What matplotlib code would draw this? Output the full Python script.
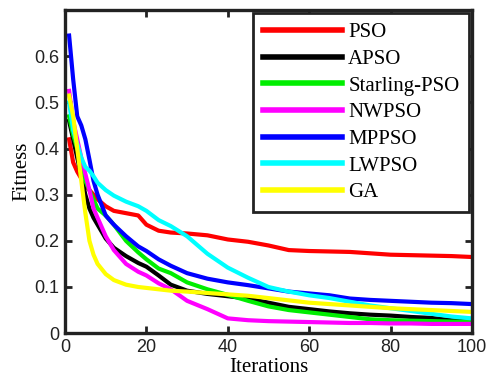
import matplotlib
matplotlib.use("Agg")
import matplotlib.pyplot as plt

iters = [1, 2, 3, 4, 5, 6, 7, 8, 10, 12, 15, 18, 20, 23, 26, 30, 35, 40, 45,
         50, 55, 60, 65, 70, 75, 80, 85, 90, 95, 100]

pso = [0.42, 0.37, 0.35, 0.335, 0.32, 0.31, 0.30, 0.29, 0.275, 0.265, 0.26, 0.255, 0.235,
       0.222, 0.218, 0.216, 0.212, 0.203, 0.198, 0.19, 0.18, 0.178, 0.177, 0.176,
       0.173, 0.17, 0.169, 0.168, 0.167, 0.165]
apso = [0.46, 0.42, 0.38, 0.34, 0.30, 0.27, 0.25, 0.235, 0.205, 0.185, 0.167, 0.152, 0.144,
        0.125, 0.105, 0.092, 0.085, 0.08, 0.075, 0.066, 0.057, 0.052, 0.047, 0.043,
        0.04, 0.038, 0.035, 0.033, 0.028, 0.024]
starling = [0.47, 0.43, 0.40, 0.37, 0.33, 0.31, 0.29, 0.27, 0.255, 0.235, 0.20, 0.175, 0.16,
            0.14, 0.13, 0.11, 0.095, 0.083, 0.07, 0.058, 0.05, 0.045, 0.04, 0.035,
            0.03, 0.028, 0.027, 0.026, 0.025, 0.025]
nwpso = [0.525, 0.46, 0.42, 0.38, 0.345, 0.31, 0.27, 0.25, 0.21, 0.18, 0.15, 0.133, 0.125,
         0.108, 0.095, 0.07, 0.052, 0.032, 0.028, 0.026, 0.025, 0.024, 0.023, 0.022,
         0.022, 0.021, 0.021, 0.02, 0.02, 0.02]
mppso = [0.645, 0.55, 0.47, 0.45, 0.42, 0.376, 0.33, 0.30, 0.255, 0.235, 0.21, 0.188, 0.178,
         0.16, 0.146, 0.13, 0.118, 0.11, 0.104, 0.097, 0.09, 0.086, 0.082, 0.075,
         0.072, 0.07, 0.068, 0.066, 0.065, 0.063]
lwpso = [0.50, 0.44, 0.41, 0.38, 0.36, 0.352, 0.34, 0.326, 0.31, 0.298, 0.285, 0.275, 0.265,
         0.245, 0.232, 0.21, 0.172, 0.142, 0.12, 0.1, 0.09, 0.082, 0.076, 0.068,
         0.06, 0.054, 0.048, 0.042, 0.036, 0.032]
ga = [0.515, 0.47, 0.40, 0.33, 0.26, 0.20, 0.17, 0.15, 0.128, 0.115, 0.105, 0.10, 0.098,
      0.095, 0.092, 0.09, 0.087, 0.084, 0.081, 0.076, 0.071, 0.066, 0.063, 0.06,
      0.057, 0.054, 0.052, 0.05, 0.048, 0.046]

series = [("PSO", pso, "#ff0000"), ("APSO", apso, "#000000"),
          ("Starling-PSO", starling, "#00ee00"), ("NWPSO", nwpso, "#ff00ff"),
          ("MPPSO", mppso, "#0000ff"), ("LWPSO", lwpso, "#00ffff"),
          ("GA", ga, "#ffff00")]

fig = plt.figure(figsize=(4.89, 3.91), dpi=100)
ax = fig.add_axes([0.133, 0.148, 0.832, 0.826])

for name, vals, col in series:
    ax.plot(iters, vals, color=col, lw=3, label=name)

ax.set_xlim(0, 100)
ax.set_ylim(0, 0.7)
ax.set_xticks([0, 20, 40, 60, 80, 100])
ax.set_yticks([0, 0.1, 0.2, 0.3, 0.4, 0.5, 0.6])
ax.set_yticklabels(["0", "0.1", "0.2", "0.3", "0.4", "0.5", "0.6"])
ax.tick_params(direction="in", length=5, width=2, top=True, right=True,
               labelsize=13, pad=4, colors="#222222", labelcolor="#222222")
for lab in ax.get_xticklabels() + ax.get_yticklabels():
    lab.set_family("Liberation Sans")
for sp in ax.spines.values():
    sp.set_linewidth(2.4)
    sp.set_color("#222222")

ax.set_xlabel("Iterations", family="Liberation Serif", fontsize=15, labelpad=2)
ax.set_ylabel("Fitness", family="Liberation Serif", fontsize=15, labelpad=2)

leg = ax.legend(loc="upper right", prop={"family": "Liberation Serif", "size": 15},
                handlelength=3.8, handletextpad=0.3, labelspacing=0.34,
                borderaxespad=0.15, borderpad=0.45, fancybox=False, framealpha=1)
leg.get_frame().set_edgecolor("#222222")
leg.get_frame().set_linewidth(2)
for line in leg.get_lines():
    line.set_linewidth(4)

fig.savefig("out.png", dpi=100)
